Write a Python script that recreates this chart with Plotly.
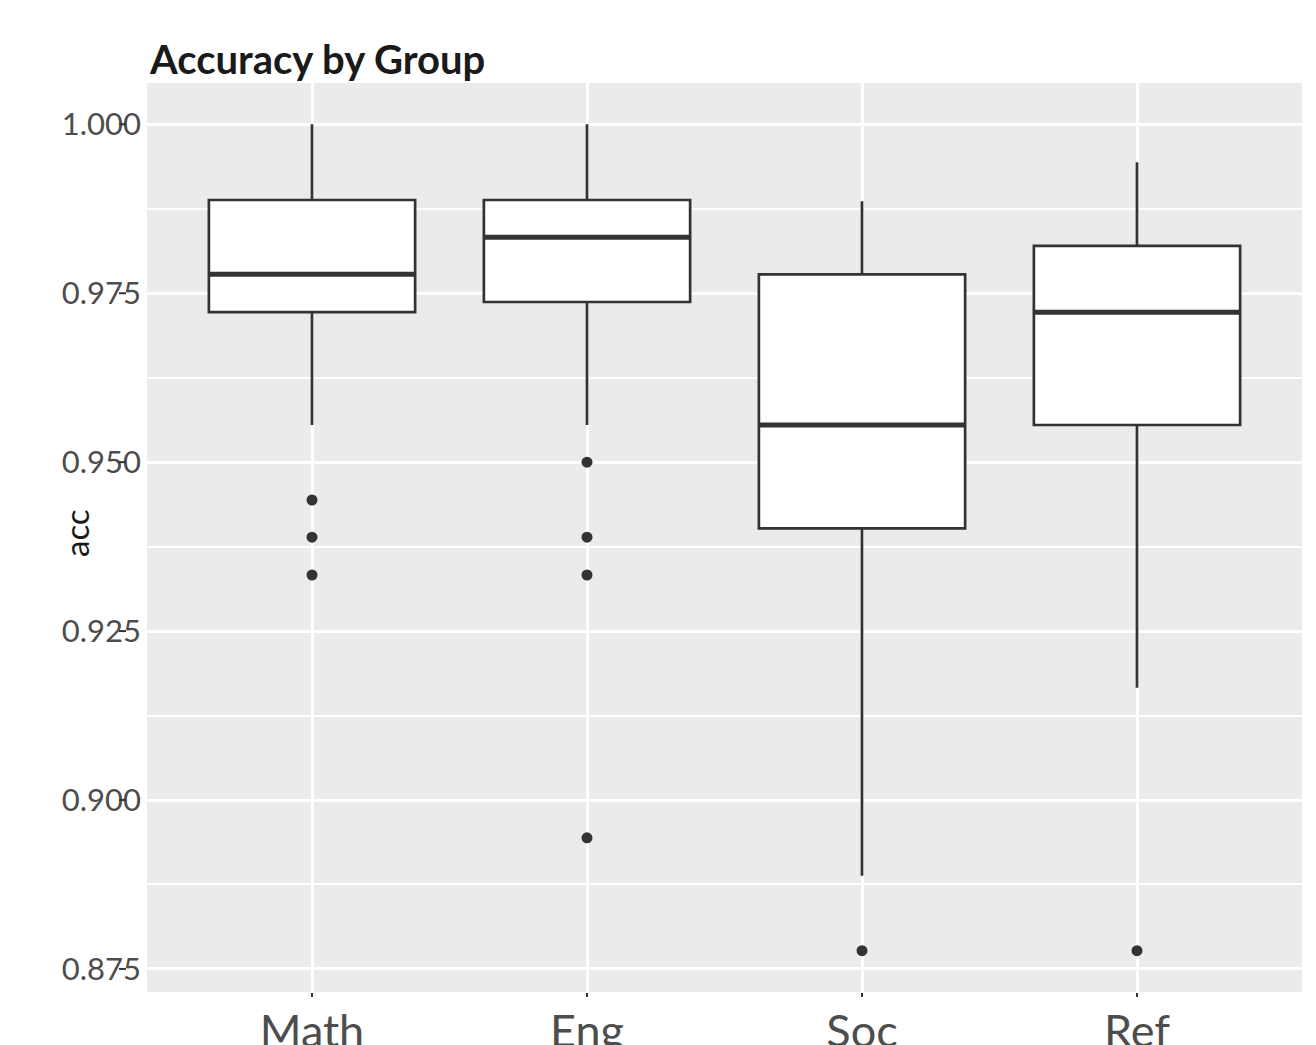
import plotly.graph_objects as go

groups = ["Math", "Eng", "Soc", "Ref"]
q1 = [0.9722, 0.9737, 0.9402, 0.9555]
medians = [0.9778, 0.9833, 0.9555, 0.9722]
q3 = [0.9888, 0.9888, 0.9778, 0.9820]
lower_whisker = [0.9555, 0.9555, 0.8888, 0.9166]
upper_whisker = [1.0, 1.0, 0.9886, 0.9944]

outlier_groups = ["Math", "Math", "Math", "Eng", "Eng", "Eng", "Eng", "Soc", "Ref"]
outlier_values = [0.9444, 0.9389, 0.9333, 0.9500, 0.9389, 0.9333, 0.8944, 0.8777, 0.8777]

y_ticks = [0.875, 0.900, 0.925, 0.950, 0.975, 1.000]
y_tick_labels = ["0.875", "0.900", "0.925", "0.950", "0.975", "1.000"]
y_minor = [0.8875, 0.9125, 0.9375, 0.9625, 0.9875]

DARK = "#333333"
OFF = 8  # page body margin
W, H = 1316, 1045
L, T = 147 - OFF, 83 - OFF
R = W - (1302 - OFF)
B = H - (992 - OFF)

fig = go.Figure()
fig.add_trace(go.Box(
    x=groups, q1=q1, median=medians, q3=q3,
    lowerfence=lower_whisker, upperfence=upper_whisker,
    fillcolor="white", line=dict(color=DARK, width=2.7),
    width=0.75, whiskerwidth=0, boxpoints=False, showlegend=False,
    hoverinfo="skip",
))
fig.add_trace(go.Scatter(
    x=outlier_groups, y=outlier_values, mode="markers",
    marker=dict(color=DARK, size=11), showlegend=False, hoverinfo="skip",
))

# thicker median lines (ggplot style)
for i, m in enumerate(medians):
    fig.add_shape(type="line", xref="x", yref="y", x0=i - 0.375, x1=i + 0.375,
                  y0=m, y1=m, line=dict(color=DARK, width=5), layer="above")

# y tick dashes (drawn over labels as in reference)
pw = W - L - R
ph = H - T - B
for v in y_ticks:
    fig.add_shape(type="line", xref="paper", yref="y",
                  x0=(119 - OFF - L) / pw, x1=(126 - OFF - L) / pw, y0=v, y1=v,
                  line=dict(color=DARK, width=2))

y_lo = min(outlier_values + lower_whisker)
y_hi = max(upper_whisker)
pad = (y_hi - y_lo) * 0.05

fig.update_layout(
    width=W, height=H,
    margin=dict(l=L, r=R, t=T, b=B, pad=0),
    paper_bgcolor="white", plot_bgcolor="#EBEBEB",
    font=dict(family="Lato", color="#4D4D4D"),
    title=dict(text="<b>Accuracy by Group</b>", font=dict(family="Lato", size=40, color="#1A1A1A"),
               x=(150 - OFF) / W, xref="container", xanchor="left",
               y=1 - (60 - OFF) / H, yref="container", yanchor="middle", automargin=False),
    xaxis=dict(type="category", categoryorder="array", categoryarray=groups,
               range=[-0.6, 3.6], showgrid=True, gridcolor="white", gridwidth=3,
               ticks="outside", ticklen=4, tickwidth=2, tickcolor=DARK,
               ticklabelstandoff=-4,
               tickfont=dict(family="Lato", size=45, color="#4D4D4D"),
               showline=False, zeroline=False, automargin=False),
    yaxis=dict(range=[y_lo - pad, y_hi + pad], tickvals=y_ticks, ticktext=y_tick_labels,
               showgrid=True, gridcolor="white", gridwidth=3,
               minor=dict(tickvals=y_minor, showgrid=True, gridcolor="white", gridwidth=1.5),
               ticks="", ticklabelstandoff=5,
               tickfont=dict(family="Lato", size=31, color="#4D4D4D"),
               showline=False, zeroline=False, automargin=False),
    annotations=[dict(text="acc", textangle=-90, xref="paper", yref="paper",
                      x=(76 - OFF - L) / pw, y=(H - B - (533 - OFF)) / ph,
                      xanchor="center", yanchor="middle", showarrow=False,
                      font=dict(family="Lato", size=33, color="#1A1A1A"))],
)

fig.write_html("out.html")
